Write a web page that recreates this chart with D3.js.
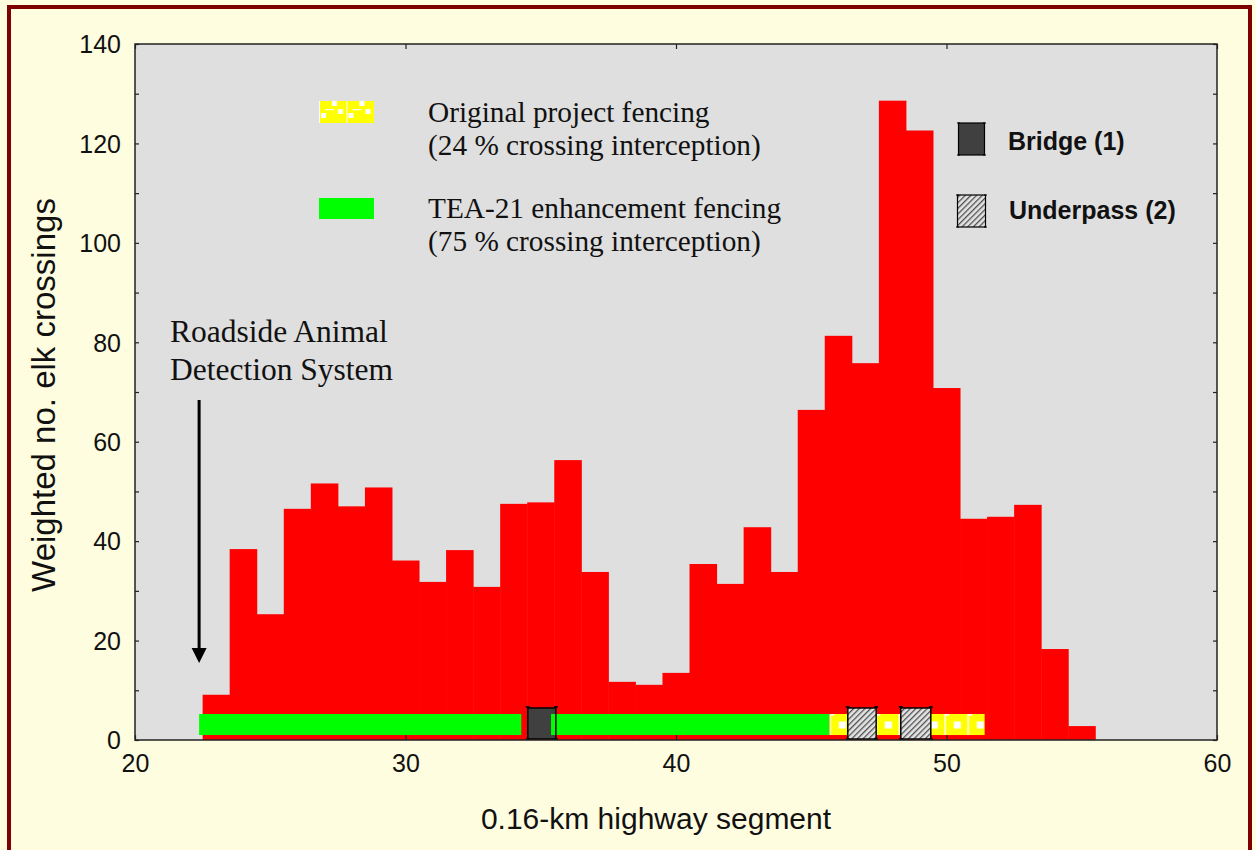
<!DOCTYPE html>
<html>
<head>
<meta charset="utf-8">
<script src="https://cdn.jsdelivr.net/npm/d3@7"></script>
<style>
  html, body { margin: 0; padding: 0; background: #FFFDE0; }
  svg { display: block; }
</style>
</head>
<body>
<svg id="chart" width="1256" height="850"></svg>
<script>
// Highway segment numbers (bar centres) and weighted elk crossings per segment
const segments = [23, 24, 25, 26, 27, 28, 29, 30, 31, 32, 33, 34, 35, 36, 37, 38, 39,
                  40, 41, 42, 43, 44, 45, 46, 47, 48, 49, 50, 51, 52, 53, 54, 55];
const crossings = [9.1, 38.4, 25.3, 46.5, 51.6, 47.0, 50.8, 36.1, 31.8, 38.2, 30.8, 47.5, 47.8,
                   56.3, 33.8, 11.7, 11.1, 13.5, 35.4, 31.4, 42.8, 33.8, 66.4, 81.3, 75.8,
                   128.6, 122.6, 70.8, 44.5, 44.9, 47.3, 18.3, 2.8];

// Fenced stretches and crossing structures along the highway (segment units)
const teaFencing = [[22.37, 34.28], [35.38, 45.67]];
const originalFencing = [[45.67, 51.41]];
const bridges = [[34.52, 35.56]];
const underpasses = [[46.35, 47.40], [48.31, 49.42]];

// Axis ticks
const xTicks = [20, 30, 40, 50, 60];
const yLabelTicks = [0, 20, 40, 60, 80, 100, 120, 140];
const yMinorTicks = [0, 10, 20, 30, 40, 50, 60, 70, 80, 90, 100, 110, 120, 130, 140];

const svg = d3.select("#chart");
const plot = { left: 135, top: 44, right: 1217, bottom: 740 };

const x = d3.scaleLinear().domain([20, 60]).range([plot.left, plot.right]);
const y = d3.scaleLinear().domain([0, 140]).range([plot.bottom, plot.top]);

const sans = "'Liberation Sans', Arial, sans-serif";
const serif = "'Liberation Serif', 'Times New Roman', serif";

const defs = svg.append("defs");

// Hatched fill for underpasses
const hatch = defs.append("pattern")
  .attr("id", "hatch").attr("patternUnits", "userSpaceOnUse")
  .attr("width", 4).attr("height", 4)
  .attr("patternTransform", "rotate(45)");
hatch.append("rect").attr("width", 4).attr("height", 4).attr("fill", "#E4E4E4");
hatch.append("rect").attr("x", 0).attr("y", 0).attr("width", 1.3).attr("height", 4).attr("fill", "#505050");

// Yellow fencing fill with white posts
const fence = defs.append("pattern")
  .attr("id", "fence").attr("patternUnits", "userSpaceOnUse")
  .attr("x", x(45.67)).attr("y", y(5.23))
  .attr("width", 23).attr("height", 21);
fence.append("rect").attr("width", 23).attr("height", 21).attr("fill", "#FFFF00");
fence.append("rect").attr("x", 0).attr("y", 0).attr("width", 1.5).attr("height", 21).attr("fill", "#ffffff");
fence.append("rect").attr("x", 0).attr("y", 0).attr("width", 5).attr("height", 1.5).attr("fill", "#ffffff");
fence.append("rect").attr("x", 9.5).attr("y", 7.5).attr("width", 7).attr("height", 7).attr("fill", "#ffffff");

const fenceLegend = defs.append("pattern")
  .attr("id", "fenceLegend").attr("patternUnits", "userSpaceOnUse")
  .attr("x", 319).attr("y", 101)
  .attr("width", 27.5).attr("height", 22);
fenceLegend.append("rect").attr("width", 27.5).attr("height", 22).attr("fill", "#FFFF00");
fenceLegend.append("rect").attr("x", 0).attr("y", 0).attr("width", 1).attr("height", 22).attr("fill", "#ffffff");
fenceLegend.append("rect").attr("x", 13).attr("y", 0).attr("width", 5).attr("height", 5).attr("fill", "#ffffff");
fenceLegend.append("rect").attr("x", 2).attr("y", 12).attr("width", 5).attr("height", 5).attr("fill", "#ffffff");
fenceLegend.append("rect").attr("x", 6).attr("y", 8).attr("width", 9).attr("height", 1.2).attr("fill", "#ffffff");
fenceLegend.append("rect").attr("x", 19).attr("y", 8).attr("width", 5).attr("height", 5).attr("fill", "#ffffff");

// Page frame
svg.append("rect")
  .attr("x", 9).attr("y", 7).attr("width", 1241).attr("height", 900)
  .attr("fill", "#FFFDE0").attr("stroke", "#7F0000").attr("stroke-width", 4);

// Plot background
svg.append("rect")
  .attr("x", plot.left).attr("y", plot.top)
  .attr("width", plot.right - plot.left).attr("height", plot.bottom - plot.top)
  .attr("fill", "#DFDFDF");

// Crossing bars
const data = segments.map((s, i) => ({ s, v: crossings[i] }));
svg.append("g").selectAll("rect").data(data).join("rect")
  .attr("x", d => x(d.s - 0.5))
  .attr("y", d => y(d.v))
  .attr("width", d => x(d.s + 0.5) - x(d.s - 0.5) + 0.5)
  .attr("height", d => y(0) - y(d.v))
  .attr("fill", "#FF0000");

// Fence band and structures
const bandTop = 5.23, bandBottom = 1.0;
const structTop = 6.44, structBottom = 0.2;

const fg = svg.append("g");

function structure(g, seg, fill) {
  const x0 = x(seg[0]), x1 = x(seg[1]);
  const y0 = y(structTop), y1 = y(structBottom);
  g.append("rect").attr("x", x0).attr("y", y0).attr("width", x1 - x0).attr("height", y1 - y0)
    .attr("fill", fill);
}
function structureOutline(g, seg) {
  const x0 = x(seg[0]), x1 = x(seg[1]);
  const y0 = y(structTop), y1 = y(structBottom);
  const o = g.append("g").attr("stroke", "#000").attr("stroke-width", 1.5).attr("fill", "none");
  o.append("line").attr("x1", x0).attr("x2", x1).attr("y1", y0).attr("y2", y0);
  o.append("line").attr("x1", x0).attr("x2", x1).attr("y1", y1).attr("y2", y1);
  [x0, x1].forEach(xx => {
    o.append("line").attr("x1", xx).attr("x2", xx).attr("y1", y0 - 2).attr("y2", y1 + 1);
    o.append("line").attr("x1", xx - 2).attr("x2", xx + 2).attr("y1", y0 - 1).attr("y2", y0 - 1);
    o.append("line").attr("x1", xx - 2).attr("x2", xx + 2).attr("y1", y1).attr("y2", y1);
  });
}

bridges.forEach(b => structure(fg, b, "#404040"));
teaFencing.forEach(seg => {
  fg.append("rect")
    .attr("x", x(seg[0])).attr("y", y(bandTop))
    .attr("width", x(seg[1]) - x(seg[0])).attr("height", y(bandBottom) - y(bandTop))
    .attr("fill", "#00FF00");
});
originalFencing.forEach(seg => {
  fg.append("rect")
    .attr("x", x(seg[0])).attr("y", y(bandTop))
    .attr("width", x(seg[1]) - x(seg[0])).attr("height", y(bandBottom) - y(bandTop))
    .attr("fill", "url(#fence)");
});
underpasses.forEach(u => structure(fg, u, "url(#hatch)"));
bridges.forEach(b => structureOutline(fg, b));
underpasses.forEach(u => structureOutline(fg, u));

// Plot border
svg.append("rect")
  .attr("x", plot.left).attr("y", plot.top)
  .attr("width", plot.right - plot.left).attr("height", plot.bottom - plot.top)
  .attr("fill", "none").attr("stroke", "#222").attr("stroke-width", 1.5);

// Axes: inward ticks on all four sides
const axisG = svg.append("g");

const xBottom = axisG.append("g").attr("transform", `translate(0,${plot.bottom})`)
  .call(d3.axisBottom(x).tickValues(xTicks).tickSize(-5).tickPadding(14).tickFormat(d3.format("d")));
const xTop = axisG.append("g").attr("transform", `translate(0,${plot.top})`)
  .call(d3.axisTop(x).tickValues(xTicks).tickSize(-5).tickFormat(""));
const yLeftMinor = axisG.append("g").attr("transform", `translate(${plot.left},0)`)
  .call(d3.axisLeft(y).tickValues(yMinorTicks).tickSize(-4).tickFormat(""));
const yLeft = axisG.append("g").attr("transform", `translate(${plot.left},0)`)
  .call(d3.axisLeft(y).tickValues(yLabelTicks).tickSize(0).tickPadding(14).tickFormat(d3.format("d")));
const yRight = axisG.append("g").attr("transform", `translate(${plot.right},0)`)
  .call(d3.axisRight(y).tickValues(yMinorTicks).tickSize(-4).tickFormat(""));

[xBottom, xTop, yLeftMinor, yLeft, yRight].forEach(g => {
  g.select(".domain").remove();
  g.selectAll(".tick line").attr("stroke", "#222").attr("stroke-width", 1.2);
  g.selectAll(".tick text").attr("font-size", 25).attr("fill", "#111")
    .attr("font-family", sans);
});
xBottom.selectAll(".tick text").attr("dy", "0.71em");
yLeft.selectAll(".tick text").attr("dy", "0.35em");

// Axis titles
svg.append("text")
  .attr("transform", `translate(55,395) rotate(-90)`)
  .attr("text-anchor", "middle")
  .attr("font-family", sans)
  .attr("font-size", 33).attr("fill", "#111")
  .text("Weighted no. elk crossings");

svg.append("text")
  .attr("x", 656).attr("y", 829)
  .attr("text-anchor", "middle")
  .attr("font-family", sans)
  .attr("font-size", 30).attr("fill", "#111")
  .text("0.16-km highway segment");

// Fencing legend
svg.append("rect").attr("x", 319).attr("y", 101).attr("width", 55).attr("height", 22)
  .attr("fill", "url(#fenceLegend)");
svg.append("rect").attr("x", 319).attr("y", 198).attr("width", 55).attr("height", 21)
  .attr("fill", "#00FF00");

const legendLines = [
  { t: "Original project fencing", y: 122 },
  { t: "(24 % crossing interception)", y: 155 },
  { t: "TEA-21 enhancement fencing", y: 218 },
  { t: "(75 % crossing interception)", y: 251 }
];
svg.append("g").selectAll("text").data(legendLines).join("text")
  .attr("x", 428).attr("y", d => d.y)
  .attr("font-family", serif).attr("font-size", 29.3).attr("fill", "#111")
  .text(d => d.t);

// Structure legend
const lg = svg.append("g");
function legendStructure(x0, x1, y0, y1, fill) {
  lg.append("rect").attr("x", x0).attr("y", y0).attr("width", x1 - x0).attr("height", y1 - y0)
    .attr("fill", fill).attr("stroke", "#000").attr("stroke-width", 1.2);
  [x0, x1].forEach(xx => {
    lg.append("line").attr("x1", xx - 1.5).attr("x2", xx + 1.5).attr("y1", y0).attr("y2", y0).attr("stroke", "#000");
    lg.append("line").attr("x1", xx - 1.5).attr("x2", xx + 1.5).attr("y1", y1).attr("y2", y1).attr("stroke", "#000");
  });
}
legendStructure(958.5, 984.5, 123, 155, "#404040");
legendStructure(957.5, 985.5, 195, 227, "url(#hatch)");
lg.append("text").attr("x", 1008).attr("y", 150)
  .attr("font-family", sans).attr("font-weight", "bold")
  .attr("font-size", 25).attr("fill", "#111").text("Bridge (1)");
lg.append("text").attr("x", 1009).attr("y", 219)
  .attr("font-family", sans).attr("font-weight", "bold")
  .attr("font-size", 25).attr("fill", "#111").text("Underpass (2)");

// Roadside Animal Detection System annotation
svg.append("text").attr("x", 170).attr("y", 342)
  .attr("font-family", serif).attr("font-size", 31.5).attr("fill", "#111")
  .text("Roadside Animal");
svg.append("text").attr("x", 170).attr("y", 380)
  .attr("font-family", serif).attr("font-size", 31.5).attr("fill", "#111")
  .text("Detection System");

const arrowX = x(22.37);
svg.append("line").attr("x1", arrowX).attr("x2", arrowX).attr("y1", 400).attr("y2", 650)
  .attr("stroke", "#000").attr("stroke-width", 3);
svg.append("path")
  .attr("d", `M${arrowX - 7.5},648 L${arrowX + 7.5},648 L${arrowX},663 Z`)
  .attr("fill", "#000");
</script>
</body>
</html>
